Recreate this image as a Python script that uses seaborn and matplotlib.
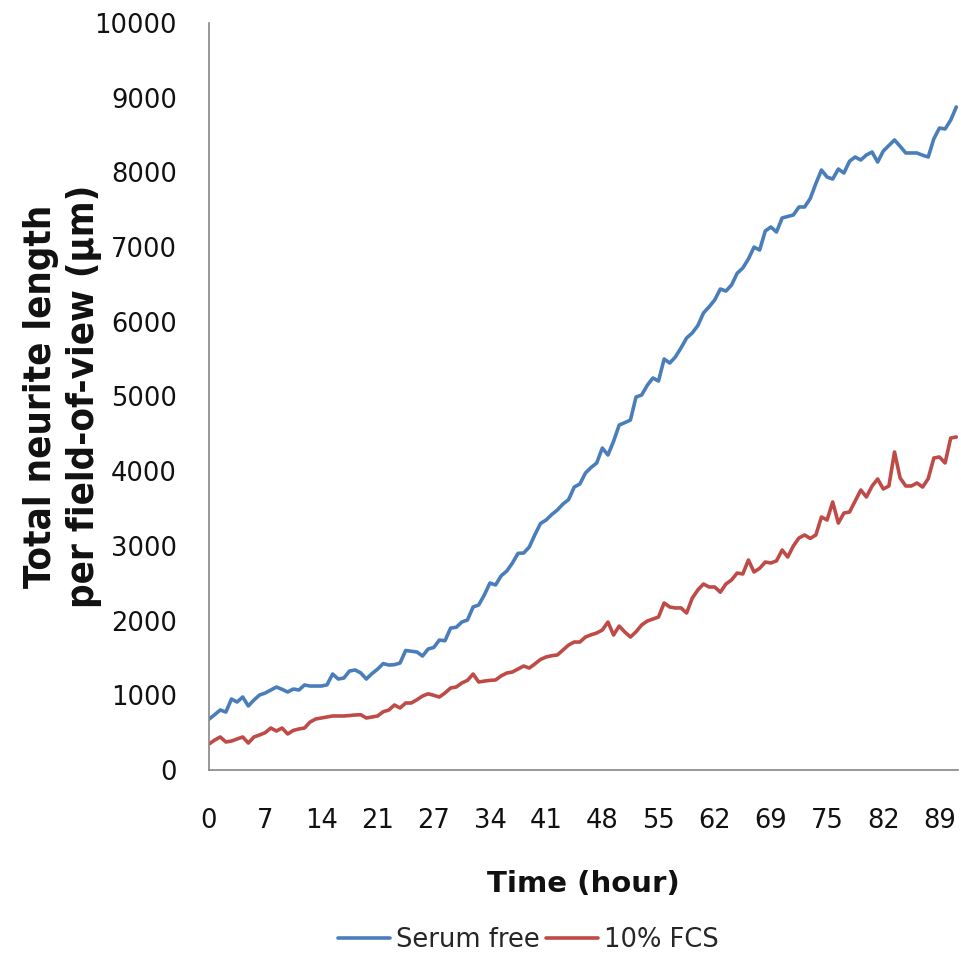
import numpy as np
import pandas as pd
import matplotlib
matplotlib.use("Agg")
import matplotlib.pyplot as plt
from matplotlib import font_manager
import seaborn as sns

# Total neurite length per field-of-view (µm), one value per imaging frame
serum_free = [
    680, 740, 803, 776, 950, 910, 977, 857, 937, 1004,
    1030, 1070, 1111, 1080, 1044, 1084, 1071, 1138, 1124, 1124,
    1124, 1140, 1285, 1218, 1231, 1325, 1339, 1300, 1218, 1290,
    1350, 1425, 1405, 1410, 1432, 1600, 1590, 1580, 1526, 1620,
    1640, 1740, 1730, 1900, 1910, 1981, 2008, 2182, 2209, 2343,
    2503, 2477, 2600, 2664, 2771, 2900, 2905, 2985, 3150, 3300,
    3347, 3420, 3481, 3561, 3620, 3788, 3829, 3976, 4050, 4110,
    4310, 4217, 4400, 4618, 4650, 4685, 4993, 5020, 5150, 5248,
    5207, 5502, 5448, 5529, 5650, 5783, 5850, 5950, 6118, 6200,
    6292, 6439, 6412, 6493, 6650, 6720, 6841, 7000, 6961, 7216,
    7269, 7202, 7390, 7410, 7430, 7537, 7537, 7650, 7850, 8032,
    7938, 7911, 8045, 7992, 8150, 8206, 8166, 8233, 8273, 8139,
    8286, 8360, 8434, 8350, 8260, 8260, 8260, 8230, 8206, 8450,
    8594, 8581, 8700, 8876,
]
fcs_10 = [
    348, 400, 442, 375, 388, 415, 442, 361, 442, 469,
    500, 562, 522, 562, 482, 530, 549, 562, 643, 683,
    696, 710, 723, 723, 723, 730, 736, 740, 696, 710,
    723, 780, 803, 870, 830, 897, 897, 940, 990, 1020,
    1000, 977, 1031, 1098, 1111, 1165, 1200, 1285, 1178, 1190,
    1200, 1205, 1260, 1298, 1312, 1352, 1392, 1365, 1420, 1480,
    1513, 1530, 1540, 1606, 1673, 1713, 1713, 1780, 1810, 1834,
    1874, 1981, 1807, 1927, 1847, 1780, 1850, 1941, 1994, 2021,
    2048, 2236, 2182, 2169, 2170, 2102, 2300, 2410, 2490, 2450,
    2450, 2380, 2490, 2544, 2637, 2624, 2811, 2651, 2700, 2784,
    2771, 2800, 2945, 2851, 3000, 3106, 3146, 3100, 3146, 3387,
    3347, 3588, 3306, 3440, 3454, 3600, 3748, 3655, 3800, 3896,
    3762, 3802, 4257, 3909, 3802, 3802, 3842, 3788, 3900, 4177,
    4190, 4110, 4444, 4458,
]
series_names = ["Serum free", "10% FCS"]
series_colors = ["#4A7EBB", "#BE4B48"]

# Category axis: every 10th frame is labelled with its time in hours
time_labels = ["0", "7", "14", "21", "27", "34", "41", "48", "55", "62",
               "69", "75", "82", "89"]
label_every = 10

y_ticks = list(range(0, 10001, 1000))

frame = np.arange(len(serum_free))
df = pd.DataFrame({
    "frame": np.concatenate([frame, frame]),
    "length": serum_free + fcs_10,
    "condition": [series_names[0]] * len(serum_free) + [series_names[1]] * len(fcs_10),
})

sns.set_theme(style="white")
plt.rcParams["font.family"] = ["DejaVu Sans"]

# narrow bold face for the rotated axis title, if one is installed
names = {f.name for f in font_manager.fontManager.ttflist}
narrow = [n for n in ("Liberation Sans Narrow", "DejaVu Sans Condensed") if n in names]
ylabel_family = narrow + ["DejaVu Sans"]

fig = plt.figure(figsize=(9.61, 9.67), dpi=100)
ax = fig.add_axes([209 / 961, 1 - 770 / 967, (958 - 209) / 961, (770 - 23) / 967])

sns.lineplot(data=df, x="frame", y="length", hue="condition",
             hue_order=series_names, palette=series_colors,
             linewidth=2.6, ax=ax, legend=False)

ax.set_xlim(0, len(serum_free) - 0.7)
ax.set_ylim(0, 10000)
ax.set_xticks([i * label_every for i in range(len(time_labels))])
ax.set_xticklabels(time_labels)
ax.set_yticks(y_ticks)
ax.set_yticklabels([str(v) for v in y_ticks])

axis_grey = "#868686"
for side in ("top", "right"):
    ax.spines[side].set_visible(False)
for side in ("left", "bottom"):
    ax.spines[side].set_color(axis_grey)
    ax.spines[side].set_linewidth(1.2)
ax.tick_params(axis="both", which="major", direction="out", length=8,
               width=1.2, color=axis_grey, labelsize=18.5, labelcolor="#111111")
ax.tick_params(axis="x", pad=19)
ax.tick_params(axis="y", pad=15)
ax.grid(False)

ax.set_xlabel("Time (hour)", fontsize=21, fontweight="bold", labelpad=26,
              color="#111111")
ax.set_ylabel("Total neurite length\nper field-of-view (µm)", fontsize=27.5,
              fontweight="bold", linespacing=1.25, fontstretch="condensed",
              family=ylabel_family, color="#111111")
ax.yaxis.set_label_coords(-0.1435, 0.5)

handles = [plt.Line2D([], [], color=c, linewidth=2.6) for c in series_colors]
fig.legend(handles, series_names, loc="center", bbox_to_anchor=(0.55, 1 - 940 / 967),
           ncol=2, frameon=False, fontsize=18.5, handlelength=2.0,
           handletextpad=0.25, columnspacing=0.25)

fig.savefig("out.png", dpi=100)
